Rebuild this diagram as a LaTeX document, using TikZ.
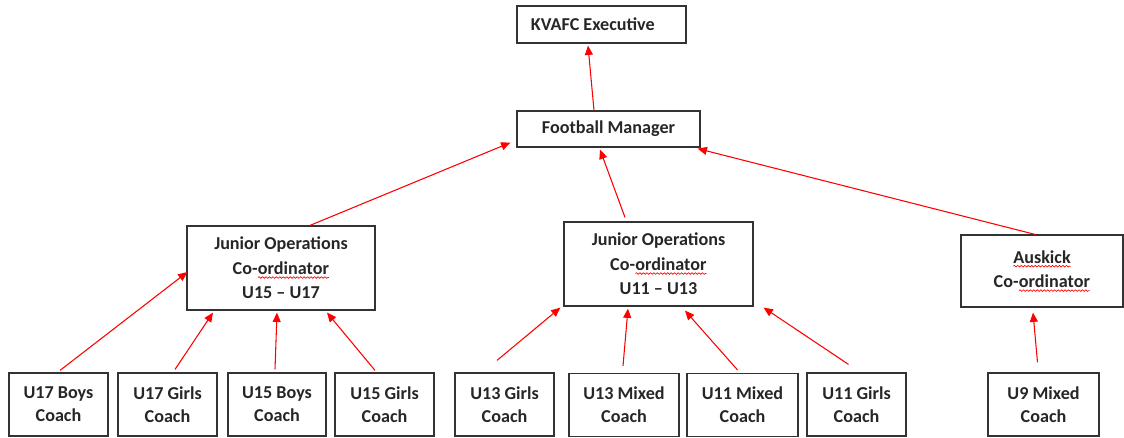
\documentclass[tikz,border=0pt]{standalone}
\usepackage{fontspec}
\setmainfont{Carlito}
\usetikzlibrary{arrows.meta,decorations.pathmorphing}
\newcommand\redwave[1]{\tikz[baseline=(w.base)]{\node[draw=none, fill=none, inner sep=0pt, outer sep=0pt, minimum width=0pt, minimum height=0pt, rectangle] (w) {#1};
  \draw[red, line width=0.5pt, decorate, decoration={snake, amplitude=0.6pt, segment length=2.6pt}] ([yshift=-2.4pt]w.base west) -- ([yshift=-2.4pt]w.base east);}}
\tikzset{
  box/.style={draw=black!80, line width=0.9pt, rectangle, align=center, inner sep=0pt,
    font=\fontsize{13.6pt}{18.3pt}\selectfont\bfseries, text=black!85},
  arr/.style={draw=red, line width=0.8pt, -{Triangle[length=7pt,width=6pt]}},
}
\begin{document}
\begin{tikzpicture}[x=0.75pt,y=-0.75pt]
\useasboundingbox (0,0) rectangle (1124,437);
% top
\node[box, minimum width=169*0.75pt, minimum height=37*0.75pt] (exec) at (601.5,24.5) {KVAFC Executive\hspace*{13pt}};
\node[box, minimum width=183*0.75pt, minimum height=36*0.75pt] (fm) at (608.5,129) {Football Manager};
% middle
\node[box, minimum width=188*0.75pt, minimum height=84*0.75pt] (jo1) at (281,268) {Junior Operations\\Co-\redwave{ordinator}\\U15 -- U17};
\node[box, minimum width=189*0.75pt, minimum height=84*0.75pt] (jo2) at (658.5,264) {Junior Operations\\Co-\redwave{ordinator}\\U11 -- U13};
\node[box, minimum width=162*0.75pt, minimum height=72*0.75pt] (ausk) at (1042,271) {\redwave{Auskick}\\Co-\redwave{ordinator}};
% bottom
\tikzset{coach/.style={box, minimum height=63*0.75pt, font=\fontsize{13.6pt}{17.3pt}\selectfont\bfseries}}
\node[coach, minimum width=99*0.75pt] (u17b) at (58.5,404.5) {U17 Boys\\Coach};
\node[coach, minimum width=99*0.75pt] (u17g) at (167.5,404.5) {U17 Girls\\Coach};
\node[coach, minimum width=98*0.75pt] (u15b) at (277,404.5) {U15 Boys\\Coach};
\node[coach, minimum width=99*0.75pt] (u15g) at (384.5,404.5) {U15 Girls\\Coach};
\node[coach, minimum width=99*0.75pt] (u13g) at (504.5,404.5) {U13 Girls\\Coach};
\node[coach, minimum width=110*0.75pt] (u13m) at (624,405) {U13 Mixed\\Coach};
\node[coach, minimum width=111*0.75pt] (u11m) at (742.5,405) {U11 Mixed\\Coach};
\node[coach, minimum width=99*0.75pt] (u11g) at (856.5,404.5) {U11 Girls\\Coach};
\node[coach, minimum width=111*0.75pt] (u9) at (1043.5,404.5) {U9 Mixed\\Coach};
% arrows
\draw[arr] ([shift={(-14.5,0)}]fm.north) -- ([shift={(-13.5,2)}]exec.south);
\draw[arr] ([shift={(29,0)}]jo1.north) -- ([shift={(-6,-5)}]fm.south west);
\draw[arr] ([shift={(-33.5,-4)}]jo2.north) -- ([shift={(-8.5,2)}]fm.south);
\draw[arr] ([shift={(-7,0)}]ausk.north) -- ([shift={(-3,1)}]fm.south east);
\draw[arr] ([shift={(1.5,-2)}]u17b.north) -- ([shift={(1,4)}]jo1.west);
\draw[arr] ([shift={(7.5,-3)}]u17g.north) -- ([shift={(-68,2)}]jo1.south);
\draw[arr] ([shift={(-2,-3)}]u15b.north) -- ([shift={(-4,2)}]jo1.south);
\draw[arr] ([shift={(-9.5,-2)}]u15g.north) -- ([shift={(46,2)}]jo1.south);
\draw[arr] ([shift={(-7.5,-12)}]u13g.north) -- ([shift={(-3,1)}]jo2.south west);
\draw[arr] ([shift={(-1,-7)}]u13m.north) -- ([shift={(-30.5,2)}]jo2.south);
\draw[arr] ([shift={(-5,-3)}]u11m.north) -- ([shift={(26.5,4)}]jo2.south);
\draw[arr] ([shift={(-8,-8)}]u11g.north) -- ([shift={(10,1)}]jo2.south east);
\draw[arr] ([shift={(-6,-10)}]u9.north) -- ([shift={(-9,5)}]ausk.south);
\end{tikzpicture}
\end{document}
